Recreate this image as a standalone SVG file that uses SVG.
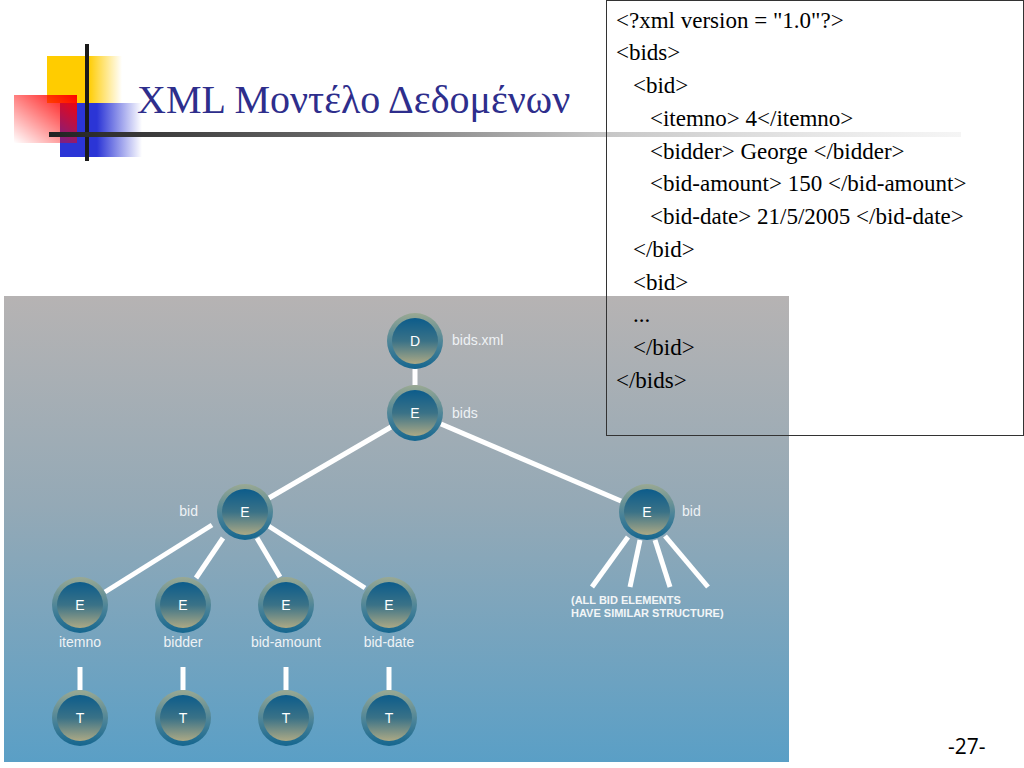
<svg xmlns="http://www.w3.org/2000/svg" width="1024" height="768" viewBox="0 0 1024 768">
<defs>
<linearGradient id="panel" x1="0" y1="0" x2="0" y2="1">
<stop offset="0" stop-color="#b6b3b3"/>
<stop offset="0.45" stop-color="#94a9b6"/>
<stop offset="1" stop-color="#5a9fc6"/>
</linearGradient>
<linearGradient id="ring" x1="0" y1="0" x2="0" y2="1">
<stop offset="0" stop-color="#9aa993"/>
<stop offset="0.55" stop-color="#4a8398"/>
<stop offset="1" stop-color="#15668f"/>
</linearGradient>
<linearGradient id="core" x1="0" y1="0" x2="0" y2="1">
<stop offset="0" stop-color="#0c5c8b"/>
<stop offset="0.5" stop-color="#3a7287"/>
<stop offset="1" stop-color="#aca985"/>
</linearGradient>
<linearGradient id="yellow" x1="0" y1="0" x2="1" y2="0">
<stop offset="0" stop-color="#ffcc00"/>
<stop offset="0.55" stop-color="#ffcc00"/>
<stop offset="1" stop-color="#ffcc00" stop-opacity="0"/>
</linearGradient>
<linearGradient id="blue" x1="0" y1="0" x2="1" y2="0">
<stop offset="0" stop-color="#2b35d6"/>
<stop offset="0.45" stop-color="#2b35d6"/>
<stop offset="1" stop-color="#2b35d6" stop-opacity="0"/>
</linearGradient>
<linearGradient id="red" x1="1" y1="0" x2="0" y2="1">
<stop offset="0" stop-color="#ff0000"/>
<stop offset="1" stop-color="#ff0000" stop-opacity="0"/>
</linearGradient>
<linearGradient id="rule" gradientUnits="userSpaceOnUse" x1="49" y1="0" x2="961" y2="0">
<stop offset="0" stop-color="#222222"/>
<stop offset="0.3" stop-color="#666666"/>
<stop offset="0.6" stop-color="#c4c4c4"/>
<stop offset="1" stop-color="#e6e6e6" stop-opacity="0.4"/>
</linearGradient>
<style>
.ring{fill:url(#ring)}
.core{fill:url(#core)}
.nl{font-family:"Liberation Sans",Arial,sans-serif;font-size:14px;fill:#ffffff;text-anchor:middle}
.lb{font-family:"Liberation Sans",Arial,sans-serif;font-size:14px;fill:#eef2f5}
.lbc{font-family:"Liberation Sans",Arial,sans-serif;font-size:14px;fill:#eef2f5;text-anchor:middle}
.note{font-family:"Liberation Sans",Arial,sans-serif;font-size:11px;fill:#f2f5f7;font-weight:bold}
.edge{stroke:#ffffff;stroke-width:5;fill:none}
.code{font-family:"Liberation Serif","Times New Roman",serif;font-size:23px;fill:#000000}
</style>
</defs>
<rect width="1024" height="768" fill="#ffffff"/>
<g id="logo">
<rect x="47" y="56" width="75" height="47" fill="url(#yellow)"/>
<rect x="60" y="103" width="82" height="54" fill="url(#blue)"/>
<rect x="14" y="95" width="63" height="48" fill="url(#red)"/>
<rect x="85" y="44" width="4" height="117" fill="#1a1a1a"/>
<rect x="49" y="132" width="912" height="5" fill="url(#rule)"/>
</g>
<text id="title" x="137" y="113" font-family="'Liberation Serif','Times New Roman',serif" font-size="40" fill="#2e2e8c">XML Μοντέλο Δεδομένων</text>
<rect id="panel-bg" x="4" y="296" width="785" height="466" fill="url(#panel)"/>
<g id="code-box">
<rect x="606.5" y="0.5" width="417" height="435" fill="none" stroke="#333333" stroke-width="1"/>
<text class="code" x="616" y="28">&lt;?xml version = "1.0"?&gt;</text>
<text class="code" x="616" y="60">&lt;bids&gt;</text>
<text class="code" x="633" y="93">&lt;bid&gt;</text>
<text class="code" x="650" y="126">&lt;itemno&gt; 4&lt;/itemno&gt;</text>
<text class="code" x="650" y="159">&lt;bidder&gt; George &lt;/bidder&gt;</text>
<text class="code" x="650" y="191">&lt;bid-amount&gt; 150 &lt;/bid-amount&gt;</text>
<text class="code" x="650" y="224">&lt;bid-date&gt; 21/5/2005 &lt;/bid-date&gt;</text>
<text class="code" x="633" y="257">&lt;/bid&gt;</text>
<text class="code" x="633" y="290">&lt;bid&gt;</text>
<text class="code" x="633" y="322">...</text>
<text class="code" x="633" y="355">&lt;/bid&gt;</text>
<text class="code" x="616" y="388">&lt;/bids&gt;</text>
</g>
<g id="connectors">
<line class="edge" x1="415" y1="369" x2="415" y2="385"/>
<line class="edge" x1="391" y1="427" x2="269" y2="498"/>
<line class="edge" x1="441" y1="424" x2="621" y2="501"/>
<line class="edge" x1="212" y1="525" x2="105" y2="592"/>
<line class="edge" x1="223" y1="538" x2="196" y2="578"/>
<line class="edge" x1="257" y1="538" x2="280" y2="577"/>
<line class="edge" x1="267" y1="525" x2="365" y2="588"/>
<line class="edge" x1="80" y1="667" x2="80" y2="690"/>
<line class="edge" x1="183" y1="667" x2="183" y2="690"/>
<line class="edge" x1="286" y1="667" x2="286" y2="690"/>
<line class="edge" x1="389" y1="667" x2="389" y2="690"/>
<line class="edge" x1="628" y1="537" x2="592" y2="587"/>
<line class="edge" x1="640" y1="540" x2="630" y2="587"/>
<line class="edge" x1="655" y1="540" x2="670" y2="587"/>
<line class="edge" x1="665" y1="536" x2="708" y2="587"/>
</g>
<g id="node-doc"><circle class="ring" cx="415" cy="341" r="28"/><circle class="core" cx="415" cy="341" r="23"/><text class="nl" x="415" y="346">D</text><text class="lb" x="452" y="345">bids.xml</text></g>
<g id="node-bids"><circle class="ring" cx="415" cy="413" r="28"/><circle class="core" cx="415" cy="413" r="23"/><text class="nl" x="415" y="418">E</text><text class="lb" x="452" y="418">bids</text></g>
<g id="node-bid1"><circle class="ring" cx="245" cy="512" r="28"/><circle class="core" cx="245" cy="512" r="23"/><text class="nl" x="245" y="517">E</text><text class="lb" x="198" y="516" text-anchor="end">bid</text></g>
<g id="node-bid2"><circle class="ring" cx="647" cy="512" r="28"/><circle class="core" cx="647" cy="512" r="23"/><text class="nl" x="647" y="517">E</text><text class="lb" x="682" y="516">bid</text></g>
<g id="note"><text class="note" x="571" y="604">(ALL BID ELEMENTS</text><text class="note" x="571" y="617">HAVE SIMILAR STRUCTURE)</text></g>
<g id="node-itemno"><circle class="ring" cx="80" cy="605" r="28"/><circle class="core" cx="80" cy="605" r="23"/><text class="nl" x="80" y="610">E</text><text class="lbc" x="80" y="647">itemno</text></g>
<g id="node-bidder"><circle class="ring" cx="183" cy="605" r="28"/><circle class="core" cx="183" cy="605" r="23"/><text class="nl" x="183" y="610">E</text><text class="lbc" x="183" y="647">bidder</text></g>
<g id="node-bid-amount"><circle class="ring" cx="286" cy="605" r="28"/><circle class="core" cx="286" cy="605" r="23"/><text class="nl" x="286" y="610">E</text><text class="lbc" x="286" y="647">bid-amount</text></g>
<g id="node-bid-date"><circle class="ring" cx="389" cy="605" r="28"/><circle class="core" cx="389" cy="605" r="23"/><text class="nl" x="389" y="610">E</text><text class="lbc" x="389" y="647">bid-date</text></g>
<g id="node-t1"><circle class="ring" cx="80" cy="718" r="28"/><circle class="core" cx="80" cy="718" r="23"/><text class="nl" x="80" y="723">T</text></g>
<g id="node-t2"><circle class="ring" cx="183" cy="718" r="28"/><circle class="core" cx="183" cy="718" r="23"/><text class="nl" x="183" y="723">T</text></g>
<g id="node-t3"><circle class="ring" cx="286" cy="718" r="28"/><circle class="core" cx="286" cy="718" r="23"/><text class="nl" x="286" y="723">T</text></g>
<g id="node-t4"><circle class="ring" cx="389" cy="718" r="28"/><circle class="core" cx="389" cy="718" r="23"/><text class="nl" x="389" y="723">T</text></g>
<text id="page" x="948" y="754" font-family="'Open Sans','Liberation Sans',sans-serif" font-size="21" fill="#000000">-27-</text>
</svg>
